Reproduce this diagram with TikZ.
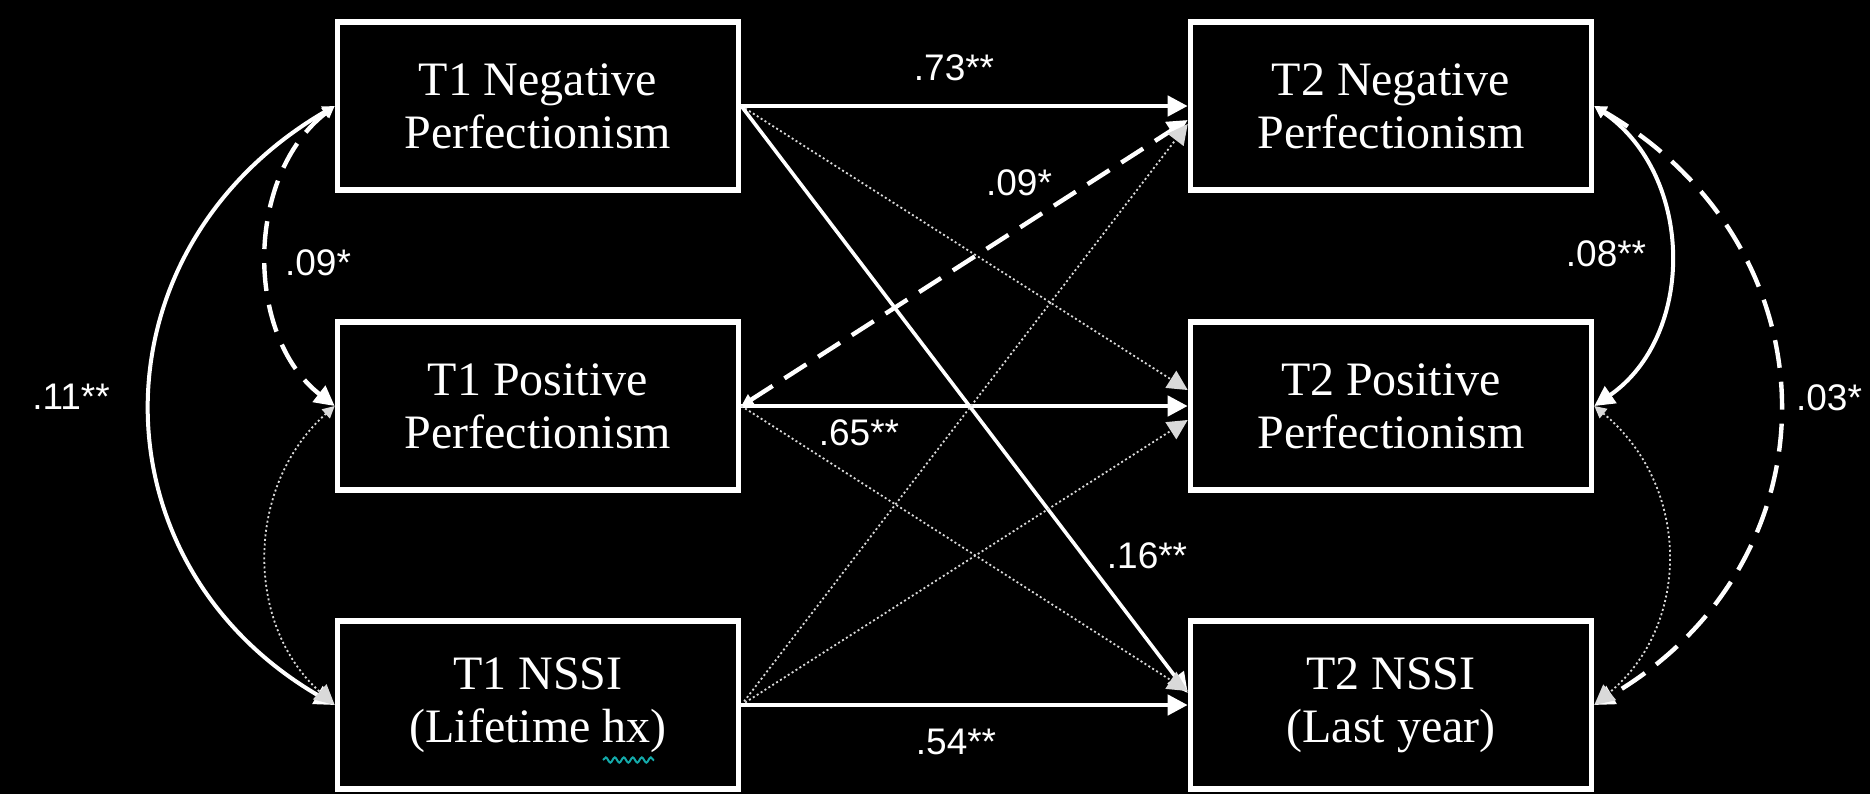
\documentclass[tikz,border=0pt]{standalone}
\usepackage{fontspec}
\setmainfont{Liberation Serif}
\newfontfamily\lblfont{Liberation Sans}
\usetikzlibrary{arrows.meta,calc,decorations.pathmorphing}

\definecolor{squiggle}{RGB}{20,170,170}

\tikzset{
  box/.style={draw=white, line width=2.8pt, text=white, align=center,
    minimum width=200.5pt, minimum height=84pt, inner sep=0pt,
    font=\fontsize{24}{26.5}\selectfont},
  lbl/.style={text=white, inner sep=0pt, font=\lblfont\fontsize{18.5}{20}\selectfont},
  bigtip/.style={-{Triangle[length=10pt,width=10pt]}},
  solidarr/.style={draw=white, line width=2.2pt, bigtip},
  dasharr/.style={draw=white, line width=2.2pt, dash pattern=on 13pt off 7pt, bigtip},
  dotarr/.style={draw=white!85!black, line width=0.9pt, dash pattern=on 1pt off 1.3pt, bigtip},
  corr/.style={{Triangle[length=6pt,width=6pt]}-{Triangle[length=10pt,width=10pt]}},
}

\begin{document}
\begin{tikzpicture}[x=0.5pt,y=-0.5pt]
  % canvas
  \fill[black] (0,0) rectangle (1870,794);
  \useasboundingbox (0,0) rectangle (1870,794);

  % T1 column
  \node[box] (a1) at (538,106) {T1 Negative\\Perfectionism};
  \node[box] (a2) at (538,406) {T1 Positive\\Perfectionism};
  \node[box] (a3) at (538,705) {T1 NSSI\\(Lifetime hx)};
  % T2 column
  \node[box] (b1) at (1391,106) {T2 Negative\\Perfectionism};
  \node[box] (b2) at (1391,406) {T2 Positive\\Perfectionism};
  \node[box] (b3) at (1391,705) {T2 NSSI\\(Last year)};

  % cross-lagged paths
  \draw[solidarr] (a1.east) -- (b1.west);
  \draw[dotarr] (a1.east) -- ($(b2.west)+(0,-16)$);
  \draw[solidarr, line width=1.8pt] (a1.east) -- ($(b3.west)+(0,-12)$);
  \draw[dasharr, {Triangle[length=6pt,width=6pt]}-{Triangle[length=10pt,width=10pt]}] (a2.east) -- ($(b1.west)+(0,14)$);
  \draw[solidarr] (a2.east) -- (b2.west);
  \draw[dotarr] (a2.east) -- ($(b3.west)+(0,-14)$);
  \draw[dotarr] (a3.east) -- ($(b1.west)+(0,18)$);
  \draw[dotarr] (a3.east) -- ($(b2.west)+(0,14)$);
  \draw[solidarr] (a3.east) -- (b3.west);

  % T1 correlations
  \draw[draw=white, line width=2pt, corr] (a1.west) .. controls +(-245,143) and +(-245,-143) .. (a3.west);
  \draw[draw=white, line width=2.2pt, dash pattern=on 14pt off 7pt, corr] (a1.west) .. controls +(-90,70) and +(-90,-70) .. (a2.west);
  \draw[draw=white!85!black, line width=0.9pt, dash pattern=on 1pt off 1.3pt, corr] (a2.west) .. controls +(-90,80) and +(-90,-80) .. (a3.west);

  % T2 correlations
  \draw[draw=white, line width=2pt, corr] (b1.east) .. controls +(101,70) and +(101,-70) .. (b2.east);
  \draw[draw=white, line width=2.2pt, dash pattern=on 14pt off 7pt, corr] (b1.east) .. controls +(246,143) and +(246,-143) .. (b3.east);
  \draw[draw=white!85!black, line width=0.9pt, dash pattern=on 1pt off 1.3pt, corr] (b2.east) .. controls +(97,80) and +(97,-80) .. (b3.east);

  % coefficients
  \node[lbl] (l73) at (954,68) {.73**};
  \node[lbl] (l09a) at (1019,183) {.09*};
  \node[lbl] (l65) at (859,433) {.65**};
  \node[lbl] (l16) at (1147,556) {.16**};
  \node[lbl] (l54) at (956,742) {.54**};
  \node[lbl] (l11) at (71,397) {.11**};
  \node[lbl] (l09b) at (318,263) {.09*};
  \node[lbl] (l08) at (1606,254) {.08**};
  \node[lbl] (l03) at (1829,398) {.03*};

  % spelling mark under "hx"
  \draw[squiggle, line width=1pt, decorate, decoration={snake, amplitude=1.3pt, segment length=4.5pt}] (603,760) -- (654,760);
\end{tikzpicture}
\end{document}
